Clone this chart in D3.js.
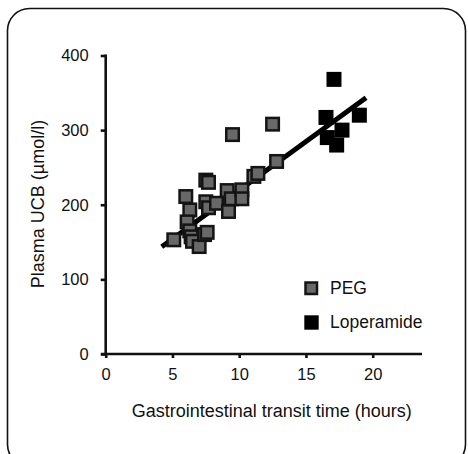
<!DOCTYPE html>
<html>
<head>
<meta charset="utf-8">
<script src="https://cdn.jsdelivr.net/npm/d3@7"></script>
<style>
  html, body { margin: 0; padding: 0; background: #fff; }
  svg { display: block; font-family: "Liberation Sans", Arial, sans-serif; }
</style>
</head>
<body>
<svg id="chart" width="468" height="454"></svg>
<script>
// Gastrointestinal transit time (hours) vs plasma UCB (µmol/l)
const pegX = [5.1, 6.0, 6.3, 6.1, 6.3, 6.4, 6.5, 7.0, 7.4, 7.6, 7.5, 7.7, 7.5, 7.7, 8.3, 9.1, 9.2, 9.4, 10.2, 10.2, 11.1, 11.4, 12.8, 9.5, 12.5];
const pegY = [153, 211, 193, 177, 165, 157, 151, 144, 160, 163, 233, 230, 204, 196, 202, 219, 191, 208, 220, 208, 238, 242, 258, 294, 308];
const loperamideX = [17.1, 16.5, 19.0, 17.7, 16.6, 17.3];
const loperamideY = [368, 317, 320, 300, 290, 280];

// Fitted regression line: UCB = intercept + slope * time
const fitIntercept = 89;
const fitSlope = 13.05;
const fitRange = [4.2, 19.5];

const xTicks = [0, 5, 10, 15, 20];
const yTicks = [0, 100, 200, 300, 400];
const seriesNames = ["PEG", "Loperamide"];

const svg = d3.select("#chart");

// rounded outer frame
svg.append("rect")
  .attr("x", 7.5).attr("y", 8.5)
  .attr("width", 458).attr("height", 458)
  .attr("rx", 22).attr("ry", 22)
  .attr("fill", "#fff").attr("stroke", "#111").attr("stroke-width", 1.6);

const x = d3.scaleLinear().domain([0, 20]).range([105.7, 372.7]);
const y = d3.scaleLinear().domain([0, 400]).range([354, 55.5]);

// axes
const xAxis = d3.axisBottom(x).tickValues(xTicks).tickSize(4).tickPadding(10).tickSizeOuter(0);
const gx = svg.append("g").attr("transform", `translate(0,${y(0)})`).call(xAxis);
gx.select(".domain").remove();
gx.append("line").attr("x1", 101).attr("x2", 422).attr("y1", 0).attr("y2", 0)
  .attr("stroke", "#111").attr("stroke-width", 2.6);
gx.selectAll(".tick line").attr("stroke", "#111").attr("stroke-width", 2.6);
gx.selectAll(".tick text").attr("font-size", 16.5).attr("fill", "#111")
  .attr("font-family", "Liberation Sans, Arial, sans-serif");

const yAxis = d3.axisLeft(y).tickValues(yTicks).tickSize(5).tickPadding(12).tickSizeOuter(0);
const gy = svg.append("g").attr("transform", `translate(${x(0)},0)`).call(yAxis);
gy.select(".domain").remove();
gy.append("line").attr("x1", 0).attr("x2", 0).attr("y1", y(400) - 1).attr("y2", y(0))
  .attr("stroke", "#111").attr("stroke-width", 2.6);
gy.selectAll(".tick line").attr("stroke", "#111").attr("stroke-width", 2.6);
gy.selectAll(".tick text").attr("font-size", 16.5).attr("fill", "#111")
  .attr("font-family", "Liberation Sans, Arial, sans-serif");

// axis titles
svg.append("text")
  .attr("x", 271.7).attr("y", 417)
  .attr("text-anchor", "middle").attr("font-size", 18).attr("fill", "#111")
  .text("Gastrointestinal transit time (hours)");
svg.append("text")
  .attr("transform", `translate(44,204) rotate(-90)`)
  .attr("text-anchor", "middle").attr("font-size", 18).attr("fill", "#111")
  .text("Plasma UCB (µmol/l)");

// regression line
svg.append("line")
  .attr("x1", x(fitRange[0])).attr("y1", y(fitIntercept + fitSlope * fitRange[0]))
  .attr("x2", x(fitRange[1])).attr("y2", y(fitIntercept + fitSlope * fitRange[1]))
  .attr("stroke", "#000").attr("stroke-width", 5);

const size = 15;
const peg = pegX.map((v, i) => ({ x: v, y: pegY[i] }));
const lop = loperamideX.map((v, i) => ({ x: v, y: loperamideY[i] }));

svg.append("g").selectAll("rect").data(peg).join("rect")
  .attr("x", d => x(d.x) - (size - 2.5) / 2)
  .attr("y", d => y(d.y) - (size - 2.5) / 2)
  .attr("width", size - 2.5).attr("height", size - 2.5)
  .attr("fill", "#686868").attr("stroke", "#141414").attr("stroke-width", 2.5);

svg.append("g").selectAll("rect").data(lop).join("rect")
  .attr("x", d => x(d.x) - size / 2)
  .attr("y", d => y(d.y) - size / 2)
  .attr("width", size).attr("height", size)
  .attr("fill", "#000");

// legend
const legend = svg.append("g");
legend.append("rect").attr("x", 305.5).attr("y", 282.5).attr("width", 11.5).attr("height", 11.5)
  .attr("fill", "#686868").attr("stroke", "#141414").attr("stroke-width", 2.5);
legend.append("rect").attr("x", 304.3).attr("y", 315.3).attr("width", 14.4).attr("height", 14.4)
  .attr("fill", "#000");
legend.selectAll("text").data(seriesNames).join("text")
  .attr("x", 330).attr("y", (d, i) => 294 + i * 34.3)
  .attr("font-size", 17.5).attr("fill", "#111")
  .text(d => d);
</script>
</body>
</html>
